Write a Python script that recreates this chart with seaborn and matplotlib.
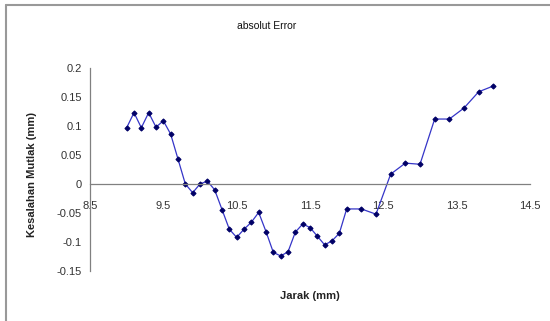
import numpy as np
import pandas as pd
import matplotlib
matplotlib.use('Agg')
import matplotlib.pyplot as plt
import seaborn as sns
from matplotlib.lines import Line2D

# jarak (mm) dan kesalahan mutlak (mm)
jarak = [9.0, 9.1, 9.2, 9.3, 9.4, 9.5, 9.6, 9.7, 9.8, 9.9,
         10.0, 10.1, 10.2, 10.3, 10.4, 10.5, 10.6, 10.7, 10.8, 10.9,
         11.0, 11.1, 11.2, 11.3, 11.4, 11.5, 11.6, 11.7, 11.8, 11.9,
         12.0, 12.2, 12.4, 12.6, 12.8, 13.0, 13.2, 13.4, 13.6, 13.8, 14.0]
error = [0.097, 0.123, 0.097, 0.123, 0.098, 0.109, 0.086, 0.043, 0.0, -0.015,
         0.0, 0.005, -0.01, -0.044, -0.078, -0.092, -0.078, -0.066, -0.049, -0.082,
         -0.118, -0.124, -0.117, -0.083, -0.069, -0.075, -0.09, -0.105, -0.098, -0.085,
         -0.043, -0.043, -0.052, 0.017, 0.036, 0.034, 0.112, 0.112, 0.131, 0.159, 0.169]
xticks = [8.5, 9.5, 10.5, 11.5, 12.5, 13.5, 14.5]
yticks = [-0.15, -0.1, -0.05, 0, 0.05, 0.1, 0.15, 0.2]

df = pd.DataFrame({'Jarak': jarak, 'Error': error})

sns.set_style('white')
plt.rcParams['font.family'] = ['Liberation Sans', 'DejaVu Sans']

fig = plt.figure(figsize=(5.5, 3.21), dpi=100)
ax = fig.add_axes([90/550, 1 - 271/321, 440/550, 203/321])

sns.lineplot(data=df, x='Jarak', y='Error', ax=ax, color='#3535c8', linewidth=0.9,
             marker='D', markersize=2.6, markerfacecolor='#000066', markeredgecolor='#000066')

ax.set_xlim(8.5, 14.5)
ax.set_ylim(-0.15, 0.2)
ax.set_xticks(xticks)
ax.set_xticklabels([str(t) for t in xticks])
ax.set_yticks(yticks)
ax.set_yticklabels(['-0.15', '-0.1', '-0.05', '0', '0.05', '0.1', '0.15', '0.2'])

for s in ['top', 'right']:
    ax.spines[s].set_visible(False)
ax.spines['bottom'].set_position(('data', 0))
for s in ['bottom', 'left']:
    ax.spines[s].set_color('#808080')
    ax.spines[s].set_linewidth(0.9)

ax.tick_params(axis='x', direction='inout', length=5, width=0.8, color='#808080',
               labelsize=8, labelcolor='#333333', pad=10)
ax.tick_params(axis='y', direction='out', length=3, width=0.8, color='#808080',
               labelsize=8, labelcolor='#333333', pad=3)
ax.set_xlabel('')
ax.set_ylabel('')

fig.text(267/550, 1 - 26/321, 'absolut Error', ha='center', va='center',
         fontsize=7.5, color='#111111')
fig.text(310/550, 1 - 296/321, 'Jarak (mm)', ha='center', va='center',
         fontsize=8, fontweight='bold', color='#222222')
fig.text(32/550, 1 - 175/321, 'Kesalahan Mutlak (mm)', ha='center', va='center',
         rotation=90, fontsize=8, fontweight='bold', color='#222222')

# bingkai area grafik
fig.add_artist(Line2D([6/550, 6/550], [0, 1 - 5/321], transform=fig.transFigure,
                      color='#999999', linewidth=1.5))
fig.add_artist(Line2D([6/550, 1], [1 - 5/321, 1 - 5/321], transform=fig.transFigure,
                      color='#999999', linewidth=1.5))

fig.savefig('out.png', dpi=100)
